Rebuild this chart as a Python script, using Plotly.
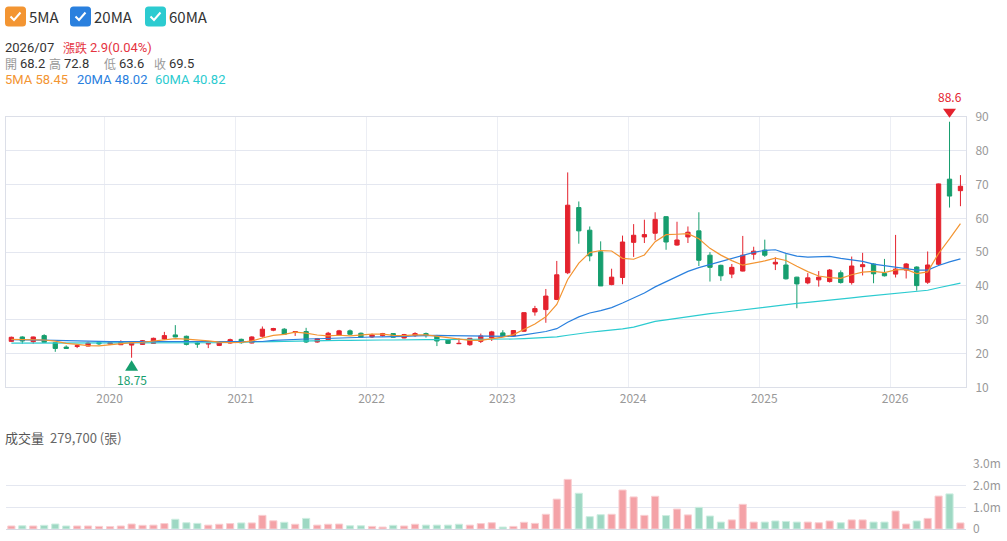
import plotly.graph_objects as go

W, H = 1007, 541
FONT = "Noto Sans CJK TC"
LATIN = "Roboto"

# ---------------- data (monthly, 2019/04 .. 2026/07) ----------------
months = [f"{2019 + (3 + k) // 12}-{(3 + k) % 12 + 1:02d}-01" for k in range(88)]

opens = [23.6, 24.9, 23.5, 25.3, 23.2, 21.9, 22.1, 22.2, 23.2, 22.8,
         22.6, 22.5, 22.7, 23.0, 24.3, 25.5, 25.1, 23.1, 22.8, 22.4,
         23.1, 24.2, 23.1, 25.1, 26.9, 27.2, 26.2, 26.5, 23.4, 24.1,
         25.4, 26.7, 26.0, 24.9, 25.3, 25.9, 24.6, 25.3, 25.9, 25.3,
         24.1, 22.9, 22.6, 23.6, 24.6, 26.1, 25.2, 26.6, 32.3, 33.0,
         36.0, 43.9, 63.2, 56.5, 50.1, 40.4, 42.5, 52.9, 54.5, 55.6,
         60.5, 52.1, 54.5, 56.3, 49.1, 46.1, 43.5, 44.4, 49.4, 50.6,
         46.5, 46.2, 42.6, 40.9, 41.8, 41.3, 43.9, 41.0, 45.7, 46.5,
         43.7, 43.5, 44.7, 45.6, 41.1, 46.4, 71.6, 68.2]

highs = [25.0, 25.1, 25.0, 25.7, 23.3, 22.4, 22.8, 23.5, 23.7, 23.6,
         23.9, 23.6, 24.0, 24.7, 26.4, 28.4, 25.3, 23.5, 23.1, 23.7,
         24.4, 24.4, 25.1, 28.0, 27.6, 27.5, 26.6, 27.6, 24.6, 26.4,
         27.0, 27.1, 26.2, 25.9, 26.1, 26.0, 25.8, 26.3, 26.2, 25.5,
         24.2, 24.5, 24.5, 25.9, 26.7, 26.9, 26.9, 32.2, 34.1, 39.1,
         47.4, 73.6, 65.0, 57.6, 53.2, 45.1, 54.9, 58.3, 59.6, 61.8,
         60.6, 59.0, 57.6, 61.8, 50.0, 46.3, 46.5, 54.8, 51.6, 53.7,
         48.5, 49.4, 42.7, 43.8, 44.4, 45.0, 44.6, 48.7, 49.8, 46.7,
         48.0, 55.1, 46.8, 45.8, 50.2, 70.3, 88.6, 72.8]

lows = [23.4, 22.9, 22.9, 23.2, 20.5, 21.4, 21.6, 22.1, 22.5, 22.5,
        22.5, 18.75, 22.6, 22.9, 24.1, 24.8, 22.4, 21.7, 21.6, 22.2,
        22.9, 22.9, 23.0, 24.7, 26.6, 25.6, 25.2, 23.1, 23.2, 24.0,
        25.2, 25.4, 24.6, 24.6, 25.0, 24.7, 24.5, 24.9, 24.7, 22.2,
        22.8, 22.8, 22.3, 23.1, 23.7, 25.0, 25.0, 26.4, 31.2, 29.1,
        35.8, 43.5, 52.5, 47.3, 40.0, 40.2, 40.5, 48.6, 52.7, 53.5,
        50.7, 51.9, 52.7, 45.9, 41.3, 41.5, 42.3, 44.3, 47.8, 48.6,
        44.7, 41.9, 33.4, 40.5, 39.8, 41.0, 40.7, 40.4, 43.1, 40.8,
        42.8, 42.5, 42.2, 38.6, 40.6, 45.9, 63.2, 63.6]

closes = [24.8, 23.7, 24.9, 23.3, 21.5, 21.5, 22.3, 23.1, 22.9, 23.2,
          23.3, 23.5, 23.8, 24.5, 25.3, 24.9, 22.7, 22.8, 23.0, 23.5,
          24.1, 23.2, 24.9, 27.2, 27.4, 25.7, 26.5, 23.4, 24.4, 26.0,
          26.7, 25.7, 24.8, 25.5, 25.9, 24.8, 25.6, 25.9, 25.3, 23.7,
          23.0, 23.0, 24.5, 25.2, 26.4, 25.1, 26.8, 32.1, 33.3, 37.0,
          43.3, 63.9, 56.3, 48.9, 40.0, 42.6, 53.0, 55.0, 55.2, 59.7,
          53.0, 53.6, 55.9, 47.6, 45.5, 43.0, 45.5, 49.1, 50.3, 49.1,
          47.0, 42.1, 40.6, 42.4, 42.6, 44.7, 41.0, 45.9, 46.3, 43.6,
          43.0, 45.0, 46.5, 40.1, 46.2, 70.2, 66.6, 69.5]

volumes = [140000, 150000, 140000, 170000, 230000, 140000, 140000, 140000, 120000, 110000,
           140000, 230000, 170000, 180000, 250000, 450000, 290000, 260000, 180000, 220000,
           250000, 280000, 280000, 630000, 380000, 310000, 220000, 490000, 180000, 220000,
           230000, 150000, 150000, 120000, 90000, 170000, 140000, 220000, 180000, 180000,
           180000, 220000, 180000, 250000, 290000, 90000, 120000, 310000, 260000, 680000,
           1380000, 2290000, 1650000, 570000, 660000, 680000, 1800000, 1480000, 630000, 1510000,
           620000, 920000, 650000, 1000000, 600000, 320000, 420000, 1140000, 320000, 320000,
           370000, 350000, 320000, 320000, 290000, 370000, 290000, 420000, 420000, 320000,
           320000, 830000, 230000, 370000, 490000, 1520000, 1620000, 279700]

vol_up = [1, 0, 1, 0, 0, 0, 1, 1, 1, 1,
          1, 1, 1, 1, 1, 0, 0, 0, 1, 1,
          1, 0, 1, 1, 1, 0, 1, 0, 1, 1,
          1, 0, 0, 1, 1, 0, 1, 1, 0, 0,
          0, 0, 1, 1, 1, 0, 1, 1, 1, 1,
          1, 1, 0, 0, 0, 1, 1, 1, 1, 1,
          0, 1, 1, 0, 0, 0, 1, 1, 1, 0,
          0, 0, 0, 1, 1, 1, 0, 1, 1, 0,
          0, 1, 1, 0, 1, 1, 0, 1]

ma5 = [24.2, 24.1, 24.2, 24.0, 23.64, 22.98, 22.7, 22.34, 22.26, 22.6,
       22.96, 23.2, 23.34, 23.66, 24.08, 24.4, 24.24, 24.04, 23.74, 23.38,
       23.22, 23.32, 23.74, 24.58, 25.36, 25.68, 26.34, 26.04, 25.48, 25.2,
       25.4, 25.24, 25.52, 25.74, 25.72, 25.34, 25.32, 25.54, 25.5, 25.06,
       24.7, 24.18, 23.9, 23.88, 24.42, 24.84, 25.6, 27.12, 28.74, 30.86,
       34.5, 41.92, 46.76, 49.88, 50.48, 50.34, 48.16, 47.9, 49.16, 53.1,
       55.18, 55.3, 55.48, 53.96, 51.12, 49.12, 47.5, 46.14, 46.68, 47.4,
       48.2, 47.52, 45.82, 44.24, 42.94, 42.48, 42.26, 43.32, 44.1, 44.3,
       43.96, 44.76, 44.88, 43.64, 44.16, 49.6, 53.92, 58.45]

ma20 = [24.1, 24.1, 24.0, 24.0, 23.9, 23.8, 23.8, 23.7, 23.6, 23.5,
        23.5, 23.4, 23.4, 23.4, 23.4, 23.4, 23.4, 23.4, 23.4, 23.43,
        23.39, 23.37, 23.37, 23.56, 23.86, 24.07, 24.28, 24.29, 24.37, 24.51,
        24.68, 24.79, 24.84, 24.89, 24.92, 24.91, 25.06, 25.21, 25.33, 25.34,
        25.28, 25.27, 25.25, 25.15, 25.1, 25.07, 25.09, 25.52, 25.97, 26.52,
        27.35, 29.26, 30.83, 32.0, 32.71, 33.6, 34.97, 36.42, 37.92, 39.72,
        41.22, 42.75, 44.32, 45.44, 46.39, 47.29, 48.22, 49.07, 49.92, 50.53,
        50.71, 49.62, 48.84, 48.51, 48.64, 48.75, 48.15, 47.69, 47.25, 46.44,
        45.94, 45.51, 45.04, 44.67, 44.7, 46.06, 47.12, 48.02]

ma60 = [23.1, 23.1, 23.1, 23.1, 23.0, 23.0, 23.0, 23.0, 23.0, 23.0,
        23.0, 23.0, 23.0, 23.0, 23.1, 23.1, 23.1, 23.1, 23.2, 23.2,
        23.3, 23.3, 23.4, 23.5, 23.5, 23.6, 23.7, 23.7, 23.8, 23.8,
        23.9, 23.9, 24.0, 24.0, 24.0, 24.0, 24.1, 24.1, 24.1, 24.1,
        24.1, 24.1, 24.1, 24.2, 24.2, 24.2, 24.3, 24.4, 24.5, 24.7,
        24.9, 25.4, 25.9, 26.3, 26.6, 26.9, 27.3, 27.8, 28.6, 29.49,
        29.96, 30.46, 30.98, 31.38, 31.78, 32.14, 32.53, 32.96, 33.42, 33.85,
        34.24, 34.55, 34.83, 35.13, 35.42, 35.75, 36.06, 36.44, 36.83, 37.16,
        37.48, 37.84, 38.2, 38.42, 38.73, 39.47, 40.14, 40.82]

price_range = [10, 90]
price_ticks = [10, 20, 30, 40, 50, 60, 70, 80, 90]
vol_tickvals = [0, 1000000, 2000000, 3000000]
vol_ticktext = ["0", "1.0m", "2.0m", "3.0m"]

# ---------------- styles ----------------
RED = "#e4232e"
GREEN = "#169e6e"
C5, C20, C60 = "#f39532", "#2a80de", "#2ccbd0"
VOL_RED, VOL_RED_LINE = "#f4a2a7", "#f9cfd2"
VOL_GREEN, VOL_GREEN_LINE = "#9ed8c3", "#cdeee1"
GRID = "#e4e7f0"
VGRID = "#eceef4"
DARK, GRAY, UPTXT = "#333333", "#999999", "#e5343f"


def px(x):
    return x / W


def py(y):
    return 1 - y / H


YDOM = [py(387.3), py(117)]
XDOM = [px(6), px(966)]

fig = go.Figure()

fig.add_trace(go.Candlestick(
    x=months, open=opens, high=highs, low=lows, close=closes,
    xperiod="M1", xperiodalignment="middle",
    increasing=dict(line=dict(color=RED, width=1), fillcolor=RED),
    decreasing=dict(line=dict(color=GREEN, width=1), fillcolor=GREEN),
    whiskerwidth=0, showlegend=False, hoverinfo="skip",
    xaxis="x", yaxis="y",
))

for vals, col in ((ma60, C60), (ma20, C20), (ma5, C5)):
    fig.add_trace(go.Scatter(
        x=months, y=vals, mode="lines", xperiod="M1", xperiodalignment="middle",
        line=dict(color=col, width=1.2), showlegend=False, hoverinfo="skip",
        xaxis="x", yaxis="y",
    ))

fig.add_trace(go.Bar(
    x=months, y=volumes, xperiod="M1", xperiodalignment="middle",
    width=20 * 86400000,
    marker=dict(color=[VOL_RED if u else VOL_GREEN for u in vol_up],
                line=dict(color=[VOL_RED_LINE if u else VOL_GREEN_LINE for u in vol_up], width=1)),
    showlegend=False, hoverinfo="skip", xaxis="x2", yaxis="y2",
))

fig.update_layout(
    width=W, height=H,
    margin=dict(l=0, r=0, t=0, b=0),
    paper_bgcolor="white", plot_bgcolor="white",
    font=dict(family=FONT, size=12, color=GRAY),
    boxgap=0.42,
    showlegend=False,
    xaxis=dict(
        domain=XDOM, type="date", range=["2019-04-01", "2026-08-01"],
        tick0="2020-01-01", dtick="M12", tickformat="%Y",
        showgrid=True, gridcolor=VGRID, gridwidth=1,
        showline=True, linecolor="#dcdfe8", linewidth=1, mirror=True,
        ticks="", ticklabelshift=5,
        tickfont=dict(family=FONT, size=12, color=GRAY),
        rangeslider=dict(visible=False), anchor="y", automargin=False, fixedrange=True,
    ),
    yaxis=dict(
        domain=YDOM, range=price_range, tickvals=price_ticks,
        side="right", showgrid=True, gridcolor=GRID, gridwidth=1,
        showline=True, linecolor="#dcdfe8", linewidth=1, mirror=True,
        zeroline=False, ticks="", ticklabelstandoff=6,
        tickfont=dict(family=FONT, size=12, color=GRAY),
        anchor="x", automargin=False, fixedrange=True,
    ),
    xaxis2=dict(
        domain=XDOM, type="date", matches="x", showticklabels=False,
        showgrid=False, showline=False, ticks="", anchor="y2", automargin=False,
    ),
    yaxis2=dict(
        domain=[py(529), py(464)], range=[0, 3000000],
        tickvals=vol_tickvals, ticktext=vol_ticktext,
        side="right", showgrid=True, gridcolor=GRID, gridwidth=1,
        zeroline=True, zerolinecolor="#d6d9e2", zerolinewidth=1,
        showline=False, ticks="", ticklabelstandoff=6,
        tickfont=dict(family=FONT, size=12, color=GRAY),
        anchor="x2", automargin=False, fixedrange=True,
    ),
)

annotations = []
shapes = []


def txt(x, y, s, color, size=13, family=LATIN):
    annotations.append(dict(
        x=px(x), y=py(y), xref="paper", yref="paper", text=s, showarrow=False,
        xanchor="left", yanchor="middle", align="left",
        borderpad=0, borderwidth=0,
        font=dict(family=family, size=size, color=color),
    ))


def rrect(x0, y0, x1, y1, r):
    return (f"M {px(x0 + r)},{py(y0)} L {px(x1 - r)},{py(y0)} "
            f"Q {px(x1)},{py(y0)} {px(x1)},{py(y0 + r)} L {px(x1)},{py(y1 - r)} "
            f"Q {px(x1)},{py(y1)} {px(x1 - r)},{py(y1)} L {px(x0 + r)},{py(y1)} "
            f"Q {px(x0)},{py(y1)} {px(x0)},{py(y1 - r)} L {px(x0)},{py(y0 + r)} "
            f"Q {px(x0)},{py(y0)} {px(x0 + r)},{py(y0)} Z")


# custom legend with check boxes
for bx, label, col in ((5, "5MA", C5), (70, "20MA", C20), (145, "60MA", C60)):
    shapes.append(dict(type="path", xref="paper", yref="paper",
                       path=rrect(bx, 6.5, bx + 21, 26.5, 3.5),
                       fillcolor=col, line=dict(width=0)))
    shapes.append(dict(type="path", xref="paper", yref="paper",
                       path=f"M {px(bx + 5.5)},{py(16.5)} L {px(bx + 9)},{py(20)} L {px(bx + 15.5)},{py(12.5)}",
                       line=dict(color="white", width=2)))
    txt(bx + 24, 17, label, DARK, 15, FONT)

# info header
Y1, Y2, Y3 = 47.5, 63.5, 79.5
txt(5, Y1, "2026/07", DARK)
txt(62.5, Y1, "漲跌", UPTXT, 12, FONT)
txt(89.5, Y1, "2.9(0.04%)", UPTXT)
for x, s in ((5, "開"), (49, "高"), (104, "低"), (154, "收")):
    txt(x, Y2, s, GRAY, 12, FONT)
for x, s in ((20, "68.2"), (63.5, "72.8"), (118.5, "63.6"), (168.5, "69.5")):
    txt(x, Y2, s, DARK)
txt(5, Y3, "5MA 58.45", C5)
txt(77, Y3, "20MA 48.02", C20)
txt(155, Y3, "60MA 40.82", C60)

# volume header
txt(5, 437, "成交量", "#555555", 13, FONT)
txt(50, 437, "279,700 (張)", "#666666", 13, FONT)


# max / min markers (anchored to the price axis scale)
def price_to_paper(v):
    return YDOM[0] + (v - price_range[0]) / (price_range[1] - price_range[0]) * (YDOM[1] - YDOM[0])


hi_i = highs.index(max(highs))
lo_i = lows.index(min(lows))
hi_x, hi_v = months[hi_i][:8] + "16", highs[hi_i]
lo_x, lo_v = months[lo_i][:8] + "16 12:00", lows[lo_i]
shapes.append(dict(type="path", xref="x", yref="paper", xsizemode="pixel", ysizemode="pixel",
                   xanchor=hi_x, yanchor=price_to_paper(hi_v), path="M -6.5,13 L 6.5,13 L 0,4 Z",
                   fillcolor=RED, line=dict(width=0)))
shapes.append(dict(type="path", xref="x", yref="paper", xsizemode="pixel", ysizemode="pixel",
                   xanchor=lo_x, yanchor=price_to_paper(lo_v), path="M -6.5,-13 L 6.5,-13 L 0,-2.5 Z",
                   fillcolor=GREEN, line=dict(width=0)))
annotations.append(dict(x=hi_x, y=hi_v, xref="x", yref="y", text=f"{hi_v}", showarrow=False,
                        xanchor="center", yanchor="middle", yshift=25,
                        font=dict(family=FONT, size=12, color=RED)))
annotations.append(dict(x=lo_x, y=lo_v, xref="x", yref="y", text=f"{lo_v}", showarrow=False,
                        xanchor="center", yanchor="middle", yshift=-22,
                        font=dict(family=FONT, size=12, color=GREEN)))

fig.update_layout(annotations=annotations, shapes=shapes)

fig.write_html("out.html")
